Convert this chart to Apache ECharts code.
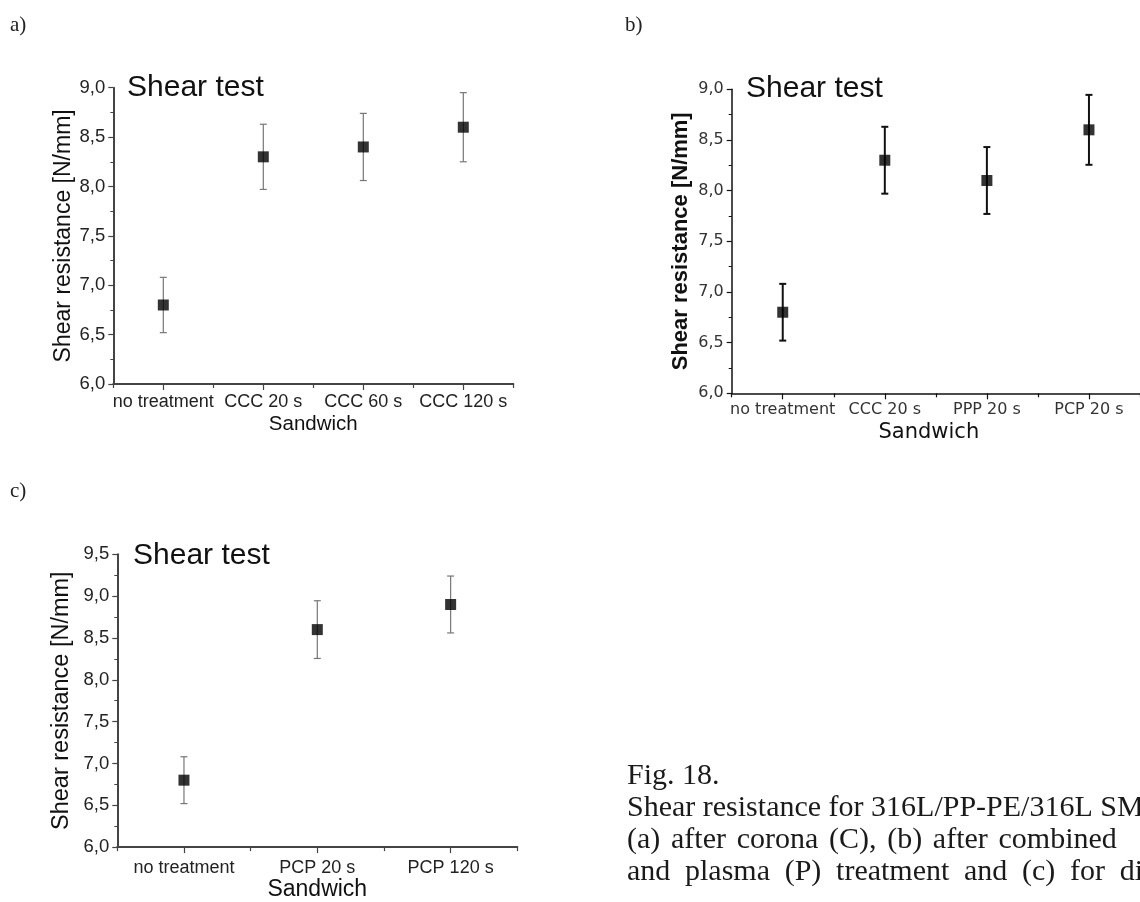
<!DOCTYPE html>
<html>
<head>
<meta charset="utf-8">
<script src="https://cdn.jsdelivr.net/npm/echarts@6/dist/echarts.min.js"></script>
<style>
  html, body { margin: 0; padding: 0; background: #fff; overflow: hidden; }
  #fig { width: 1140px; height: 902px; }
</style>
</head>
<body>
<div id="fig"></div>
<script>
// Shear test results, three sandwich treatment series
const catsA = ['no treatment', 'CCC 20 s', 'CCC 60 s', 'CCC 120 s'];
const meanA = [6.8, 8.3, 8.4, 8.6];
const errA  = [0.28, 0.33, 0.34, 0.35];

const catsB = ['no treatment', 'CCC 20 s', 'PPP 20 s', 'PCP 20 s'];
const meanB = [6.8, 8.3, 8.1, 8.6];
const errB  = [0.28, 0.33, 0.33, 0.345];

const catsC = ['no treatment', 'PCP 20 s', 'PCP 120 s'];
const meanC = [6.8, 8.6, 8.9];
const errC  = [0.28, 0.345, 0.34];

const yRangeAB = { min: 6.0, max: 9.0, step: 0.5 };
const yRangeC  = { min: 6.0, max: 9.5, step: 0.5 };

const panelTitle = 'Shear test';
const yName = 'Shear resistance [N/mm]';
const xName = 'Sandwich';
const captionLines = [
  'Fig. 18.',
  'Shear resistance for 316L/PP-PE/316L SMS',
  '(a) after corona (C), (b) after combined',
  'and plasma (P) treatment and (c) for different'
];

const SANS = '"Liberation Sans", Arial, sans-serif';
const SERIF = '"Liberation Serif", "Times New Roman", serif';

const commaFmt = v => v.toFixed(1).replace('.', ',');

function mainX(grid, cats, o) {
  return {
    type: 'category', gridIndex: grid, data: cats, boundaryGap: true,
    position: 'bottom',
    name: xName, nameLocation: 'middle', nameGap: o.nameGap,
    nameTextStyle: { fontFamily: o.nameFont, fontSize: o.nameSize, color: '#111',
                     padding: o.namePad || 0 },
    axisLine: { show: true, lineStyle: { color: o.axisColor, width: o.axisWidth } },
    axisTick: { show: true, alignWithLabel: true, interval: 0, length: 6,
                lineStyle: { color: o.axisColor, width: 1.2 } },
    axisLabel: { interval: 0, margin: o.labelMargin, fontFamily: o.labelFont,
                 fontSize: o.labelSize, color: o.labelColor },
    splitLine: { show: false }
  };
}
// second category axis on the same grid: short ticks on category boundaries
function boundaryX(grid, cats, o) {
  return {
    type: 'category', gridIndex: grid, data: cats, boundaryGap: true,
    position: 'bottom',
    axisLine: { show: false },
    axisTick: { show: true, alignWithLabel: false, interval: 0, length: 4,
                lineStyle: { color: o.axisColor, width: 1.2 } },
    axisLabel: { show: false },
    splitLine: { show: false }
  };
}
function valueY(grid, r, o) {
  return {
    type: 'value', gridIndex: grid, min: r.min, max: r.max, interval: r.step,
    name: yName, nameLocation: 'middle', nameRotate: 90, nameGap: o.nameGap,
    nameTextStyle: { fontFamily: SANS, fontSize: o.nameSize, fontWeight: o.nameWeight, color: '#111' },
    axisLine: { show: true, lineStyle: { color: o.axisColor, width: o.axisWidth } },
    axisTick: { show: true, length: 5, lineStyle: { color: o.axisColor, width: 1.2 } },
    minorTick: { show: true, splitNumber: 2, length: 3, lineStyle: { color: o.axisColor, width: 1 } },
    axisLabel: { margin: 8, fontFamily: o.labelFont, fontSize: o.labelSize, color: o.labelColor,
                 formatter: commaFmt },
    splitLine: { show: false }, minorSplitLine: { show: false }
  };
}

function errorBars(xi, yi, means, errs, color, width, cap) {
  return {
    type: 'custom', xAxisIndex: xi, yAxisIndex: yi, z: 1,
    data: means.map((m, i) => [i, m - errs[i], m + errs[i]]),
    renderItem: (params, api) => {
      const i = api.value(0);
      const lo = api.coord([i, api.value(1)]);
      const hi = api.coord([i, api.value(2)]);
      const h = cap / 2;
      const st = { stroke: color, lineWidth: width };
      return {
        type: 'group',
        children: [
          { type: 'line', shape: { x1: lo[0], y1: lo[1], x2: hi[0], y2: hi[1] }, style: st },
          { type: 'line', shape: { x1: lo[0] - h, y1: lo[1], x2: lo[0] + h, y2: lo[1] }, style: st },
          { type: 'line', shape: { x1: hi[0] - h, y1: hi[1], x2: hi[0] + h, y2: hi[1] }, style: st }
        ]
      };
    }
  };
}
function points(xi, yi, means) {
  return {
    type: 'scatter', xAxisIndex: xi, yAxisIndex: yi, z: 3,
    data: means, symbol: 'rect', symbolSize: 11,
    itemStyle: { color: '#000' }
  };
}

const styleA = { axisColor: '#444', axisWidth: 2, labelFont: SANS, labelSize: 18, labelColor: '#222',
                 labelMargin: 9, nameFont: SANS, nameSize: 20.5, nameGap: 30 };
const styleB = { axisColor: '#111', axisWidth: 1.5, labelFont: '"DejaVu Sans", sans-serif', labelSize: 16,
                 labelColor: '#333', labelMargin: 9, nameFont: '"DejaVu Sans", sans-serif', nameSize: 21,
                 nameGap: 29, namePad: [0, 14, 0, 0] };
const styleC = { axisColor: '#444', axisWidth: 2, labelFont: SANS, labelSize: 18, labelColor: '#222',
                 labelMargin: 12, nameFont: SANS, nameSize: 23, nameGap: 28 };

const text = (x, y, str, font, size, extra) => ({
  type: 'text', x: x, y: y, silent: true,
  style: Object.assign({ text: str, font: size + 'px ' + font, fill: '#111',
                         textAlign: 'left', textVerticalAlign: 'middle' }, extra || {})
});

const graphics = [
  text(10, 25, 'a)', SERIF, 21, { fill: '#222' }),
  text(625, 25, 'b)', SERIF, 21, { fill: '#222' }),
  text(10, 491, 'c)', SERIF, 21, { fill: '#222' }),
  text(127, 88, panelTitle, SANS, 30),
  text(746, 89, panelTitle, SANS, 30),
  text(133, 556, panelTitle, SANS, 30)
];

// justified caption: words laid out with extra space added to each gap
const capFont = '30px ' + SERIF;
const measureCtx = document.createElement('canvas').getContext('2d');
measureCtx.font = capFont;
const spaceW = measureCtx.measureText(' ').width;
const capBase = [776.5, 808.2, 840, 871.7];
const capExtraGap = [0, 0, 3.2, 7.2];
captionLines.forEach((ln, i) => {
  let x = 627;
  ln.split(' ').forEach(w => {
    graphics.push(text(x, capBase[i], w, SERIF, 30, { fill: '#1a1a1a' }));
    x += measureCtx.measureText(w).width + spaceW + capExtraGap[i];
  });
});

const chart = echarts.init(document.getElementById('fig'), null, { renderer: 'canvas' });
chart.setOption({
  animation: false,
  backgroundColor: '#fff',
  grid: [
    { left: 113.3, top: 87.7, width: 400, height: 296.3 },
    { left: 731.7, top: 89.3, width: 411, height: 304 },
    { left: 117.3, top: 554.3, width: 400, height: 296.7 }
  ],
  xAxis: [
    mainX(0, catsA, styleA), boundaryX(0, catsA, styleA),
    mainX(1, catsB, styleB), boundaryX(1, catsB, styleB),
    mainX(2, catsC, styleC), boundaryX(2, catsC, styleC)
  ],
  yAxis: [
    valueY(0, yRangeAB, Object.assign({}, styleA, { nameGap: 38, nameSize: 23, nameWeight: 'normal', labelSize: 18.5 })),
    valueY(1, yRangeAB, Object.assign({}, styleB, { nameGap: 40, nameSize: 22, nameWeight: 'bold', labelSize: 16 })),
    valueY(2, yRangeC, Object.assign({}, styleC, { nameGap: 44, nameSize: 23.5, nameWeight: 'normal', labelSize: 18.5 }))
  ],
  series: [
    errorBars(0, 0, meanA, errA, '#777', 1.2, 7),
    points(0, 0, meanA),
    errorBars(2, 1, meanB, errB, '#111', 2, 7),
    points(2, 1, meanB),
    errorBars(4, 2, meanC, errC, '#777', 1.2, 7),
    points(4, 2, meanC)
  ],
  graphic: graphics
});
</script>
</body>
</html>
